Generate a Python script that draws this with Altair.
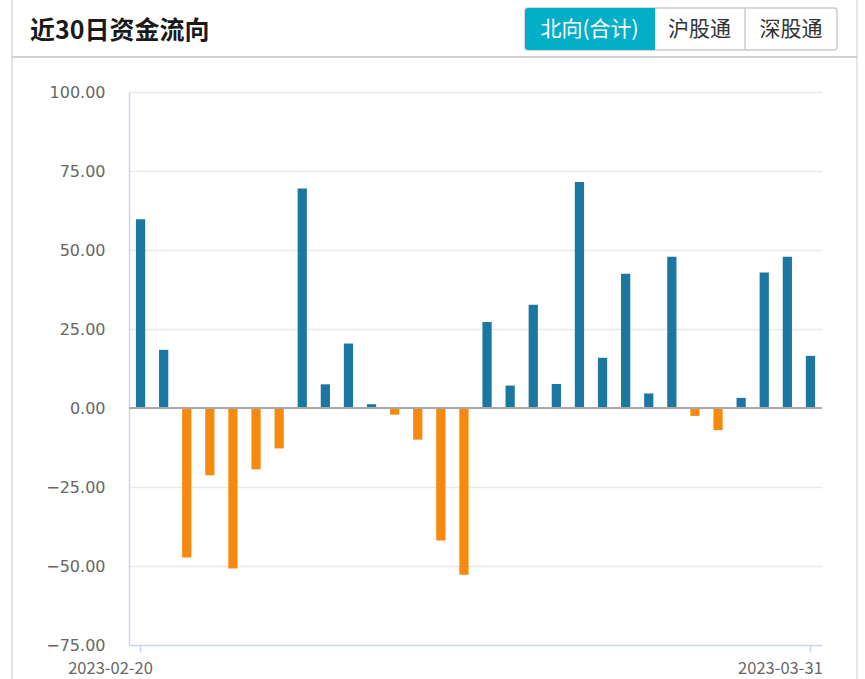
import altair as alt
import pandas as pd

# ---------------- data ----------------
dates = ["2023-02-20", "2023-02-21", "2023-02-22", "2023-02-23", "2023-02-24",
         "2023-02-27", "2023-02-28", "2023-03-01", "2023-03-02", "2023-03-03",
         "2023-03-06", "2023-03-07", "2023-03-08", "2023-03-09", "2023-03-10",
         "2023-03-13", "2023-03-14", "2023-03-15", "2023-03-16", "2023-03-17",
         "2023-03-20", "2023-03-21", "2023-03-22", "2023-03-23", "2023-03-24",
         "2023-03-27", "2023-03-28", "2023-03-29", "2023-03-30", "2023-03-31"]
values = [59.7, 18.4, -47.3, -21.3, -50.8, -19.4, -12.8, 69.5, 7.5, 20.4,
          1.2, -2.1, -10.0, -41.9, -52.8, 27.2, 7.1, 32.7, 7.6, 71.5,
          15.9, 42.5, 4.6, 47.9, -2.5, -7.0, 3.2, 42.9, 47.9, 16.5]
y_ticks = [-75, -50, -25, 0, 25, 50, 75, 100]
x_label_dates = [dates[0], dates[-1]]
title_text = "近30日资金流向"
button_labels = ["北向(合计)", "沪股通", "深股通"]

df = pd.DataFrame({"date": dates, "value": values})
df_xlab = pd.DataFrame({"date": x_label_dates})
one = pd.DataFrame({"k": [0]})

# plot area geometry (pixels in page)
L, T, R, B = 129, 92, 822, 645
W, H = 865, 679

BLUE = "#1c76a2"
ORANGE = "#f7890f"
TEAL = "#02aec8"
AXIS_BLUE = "#ccd6eb"
CJK = "Noto Sans CJK SC"

xscale = alt.Scale(domain=dates, paddingInner=0.6, paddingOuter=0.3)

bars = alt.Chart(df).mark_bar().encode(
    x=alt.X("date:O", sort=dates, scale=xscale,
            axis=alt.Axis(values=x_label_dates, labels=False,
                          tickSize=7, tickColor=AXIS_BLUE, tickWidth=1.5,
                          domainColor=AXIS_BLUE, domainWidth=1.5,
                          title=None, grid=False)),
    y=alt.Y("value:Q", scale=alt.Scale(domain=[-75, 100], nice=False, zero=False),
            axis=alt.Axis(values=y_ticks, format=".2f", ticks=False, labelPadding=24,
                          labelFont="DejaVu Sans", labelFontSize=16, labelColor="#666",
                          domainColor=AXIS_BLUE, domainWidth=1.5,
                          gridColor="#e9e9e9", gridWidth=1.5, title=None)),
    color=alt.when(alt.datum.value >= 0).then(alt.value(BLUE)).otherwise(alt.value(ORANGE)),
)

xlabels = alt.Chart(df_xlab).mark_text(
    font=CJK, fontSize=16.5, color="#666", dx=-30, align="center", baseline="middle"
).encode(x=alt.X("date:O", sort=dates, scale=xscale), y=alt.value(669 - T), text="date:N")

zero_rule = alt.Chart(pd.DataFrame({"v": [0]})).mark_rule(
    color="#a8a8a8", strokeWidth=1.8).encode(y="v:Q")


def vrule(x, y0, y1, color, width):
    return alt.Chart(one).mark_rule(color=color, strokeWidth=width).encode(
        x=alt.value(x - L), y=alt.value(y0 - T), y2=alt.value(y1 - T))


def hrule(x0, x1, y, color, width):
    return alt.Chart(one).mark_rule(color=color, strokeWidth=width).encode(
        x=alt.value(x0 - L), x2=alt.value(x1 - L), y=alt.value(y - T))


def rect(x0, x1, y0, y1, **kw):
    return alt.Chart(one).mark_rect(**kw).encode(
        x=alt.value(x0 - L), x2=alt.value(x1 - L),
        y=alt.value(y0 - T), y2=alt.value(y1 - T))


def text(s, x, y, **kw):
    return alt.Chart(one).mark_text(text=s, **kw).encode(
        x=alt.value(x - L), y=alt.value(y - T))


panel = [
    vrule(12, 0, H, "#e2e2e2", 2),
    vrule(857, 0, H, "#e8e8e8", 2),
    hrule(12, 857, 57, "#cfcfcf", 2),
    text(title_text, 30, 31, font=CJK, fontSize=25, fontWeight="bold",
         align="left", baseline="middle", color="#1a1a1a"),
    rect(525, 837, 8, 50, fill="white", stroke="#cccccc", strokeWidth=1.5, cornerRadius=3),
    rect(525, 654, 8, 50, fill=TEAL, cornerRadius=3),
    rect(648, 655, 8, 50, fill=TEAL),
    vrule(745, 8, 50, "#cccccc", 1.5),
    text(button_labels[0], 589.5, 30, font=CJK, fontSize=21, align="center",
         baseline="middle", color="white"),
    text(button_labels[1], 699.5, 30, font=CJK, fontSize=21, align="center",
         baseline="middle", color="#333"),
    text(button_labels[2], 791, 30, font=CJK, fontSize=21, align="center",
         baseline="middle", color="#333"),
]

chart = alt.layer(bars, zero_rule, xlabels, *panel).properties(
    width=R - L, height=B - T,
    autosize=alt.AutoSizeParams(type="none"),
    padding={"left": L, "top": T, "right": W - R, "bottom": H - B},
    background="white",
).configure_view(stroke=None)

chart.save("out.html", embed_options={"renderer": "svg", "actions": False})
